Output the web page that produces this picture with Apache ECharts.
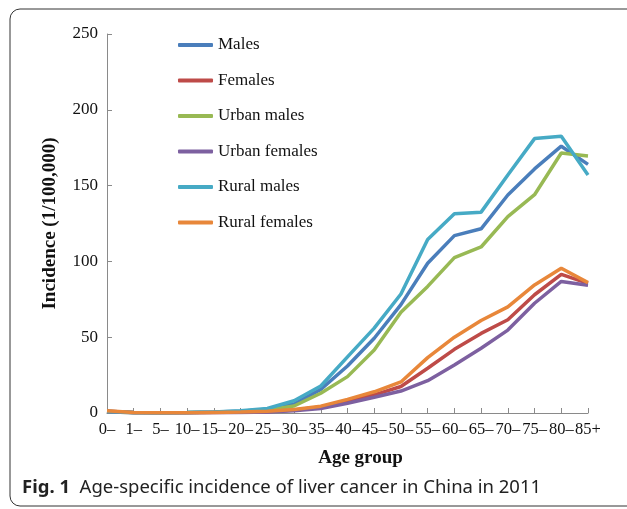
<!DOCTYPE html>
<html>
<head>
<meta charset="utf-8">
<script src="https://cdn.jsdelivr.net/npm/echarts@6/dist/echarts.min.js"></script>
<style>
  html, body { margin: 0; padding: 0; background: #fff; }
  #chart { width: 627px; height: 509px; }
</style>
</head>
<body>
<div id="chart"></div>
<script>
  // Age groups and incidence per 100,000
  var ageGroups = ['0–', '1–', '5–', '10–', '15–', '20–', '25–', '30–', '35–', '40–',
                   '45–', '50–', '55–', '60–', '65–', '70–', '75–', '80–', '85+'];
  var yTicks = [0, 50, 100, 150, 200, 250];

  var males        = [1.2, 0.3, 0.2, 0.3, 0.6, 1.2, 2.5, 5.9, 15.6, 31, 49.3, 71.5, 98.8, 117, 121.5, 143.8, 161, 176, 164];
  var females      = [1.2, 0.3, 0.2, 0.2, 0.3, 0.5, 0.9, 2, 4, 7.5, 12, 17.5, 29.5, 42, 52.5, 61.5, 78, 91.5, 85.5];
  var urbanMales   = [0.8, 0.2, 0.2, 0.3, 0.5, 0.9, 2, 4.6, 13, 24, 41.6, 66.5, 83.5, 102.5, 109.5, 129.5, 144, 171.5, 169.5];
  var urbanFemales = [0.8, 0.2, 0.1, 0.2, 0.3, 0.4, 0.7, 1.5, 3, 6.4, 10.4, 14.5, 21.3, 31.7, 42.7, 54.7, 72.4, 86.8, 84.3];
  var ruralMales   = [1.0, 0.3, 0.2, 0.4, 0.7, 1.5, 3, 8.1, 17.8, 37, 56, 78.5, 114.5, 131.5, 132.5, 157, 181, 182.5, 157];
  var ruralFemales = [1.5, 0.4, 0.2, 0.2, 0.4, 0.6, 1.1, 2.3, 4.5, 9, 14, 20.5, 36.5, 50, 61, 70, 84.5, 95.5, 86];

  var seriesNames = ['Males', 'Females', 'Urban males', 'Urban females', 'Rural males', 'Rural females'];
  var seriesData = [males, females, urbanMales, urbanFemales, ruralMales, ruralFemales];
  var colors = ['#4A7EBB', '#BE4B48', '#98B954', '#7D60A0', '#46AAC5', '#E8873A'];

  var serif = '"Liberation Serif", "DejaVu Serif", serif';

  var chart = echarts.init(document.getElementById('chart'));

  var option = {
    animation: false,
    color: colors,
    title: {
      left: 17,
      top: 473,
      text: '{b|Fig. 1}{n|  Age-specific incidence of liver cancer in China in 2011}',
      textStyle: {
        fontWeight: 'normal',
        rich: {
          b: { fontFamily: '"Noto Sans", sans-serif', fontWeight: 'bold', fontSize: 18.5, color: '#222' },
          n: { fontFamily: '"Noto Sans", sans-serif', fontWeight: 'normal', fontSize: 18.5, color: '#222' }
        }
      }
    },
    legend: {
      orient: 'vertical',
      left: 173,
      top: 31,
      icon: 'roundRect',
      itemWidth: 35,
      itemHeight: 4,
      itemGap: 17.5,
      data: seriesNames,
      textStyle: { fontFamily: serif, fontSize: 17, lineHeight: 18, color: '#111' }
    },
    grid: { left: 107, right: 39, top: 34, bottom: 96 },
    xAxis: {
      type: 'category',
      data: ageGroups,
      boundaryGap: false,
      name: 'Age group',
      nameLocation: 'middle',
      nameGap: 36,
      nameTextStyle: { fontFamily: serif, fontWeight: 'bold', fontSize: 19, color: '#111', padding: [0, 0, 0, 26] },
      axisLine: { lineStyle: { color: '#8a8a8a', width: 1 } },
      axisTick: { inside: true, length: 5, lineStyle: { color: '#8a8a8a' } },
      axisLabel: { interval: 0, margin: 8, fontFamily: serif, fontSize: 16.5, color: '#111' },
      splitLine: { show: false }
    },
    yAxis: {
      type: 'value',
      min: yTicks[0],
      max: yTicks[yTicks.length - 1],
      interval: 50,
      name: 'Incidence (1/100,000)',
      nameLocation: 'middle',
      nameGap: 47,
      nameTextStyle: { fontFamily: serif, fontWeight: 'bold', fontSize: 19, color: '#111' },
      axisLine: { show: true, lineStyle: { color: '#8a8a8a', width: 1 } },
      axisTick: { show: true, inside: true, length: 5, lineStyle: { color: '#8a8a8a' } },
      axisLabel: { margin: 9, fontFamily: serif, fontSize: 17, color: '#111' },
      splitLine: { show: false }
    },
    graphic: [{
      type: 'rect',
      shape: { x: 10, y: 9, width: 660, height: 497, r: 10 },
      style: { fill: 'none', stroke: '#333', lineWidth: 1 },
      silent: true
    }],
    series: seriesNames.map(function (name, i) {
      return {
        name: name,
        type: 'line',
        data: seriesData[i],
        symbol: 'none',
        lineStyle: { width: 3.5, color: colors[i] },
        itemStyle: { color: colors[i] }
      };
    })
  };

  chart.setOption(option);
</script>
</body>
</html>
